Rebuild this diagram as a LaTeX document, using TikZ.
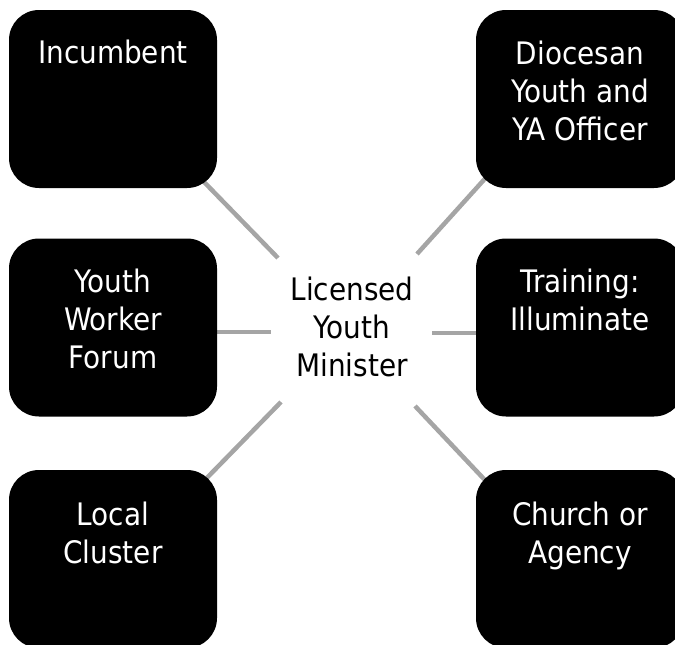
\documentclass[tikz,border=0pt]{standalone}
\usepackage{fontspec}
\setmainfont{DejaVu Sans Condensed}
\usetikzlibrary{backgrounds}
\definecolor{linkgray}{HTML}{A5A5A5}
\begin{document}
\begin{tikzpicture}[x=1pt,y=-1pt,
  blk/.style={draw=none, fill=black, rounded corners=30pt, minimum width=208pt, minimum height=178pt, inner sep=0pt},
  lbl/.style={text=white, font=\fontsize{31}{38}\selectfont, align=center, inner sep=0pt, anchor=north},
  hubtext/.style={text=black, font=\fontsize{31}{38}\selectfont, align=center, inner sep=0pt},
  conn/.style={draw=linkgray, line width=4.5pt}]
\useasboundingbox (0,0) rectangle (675,645);
\node[blk] (inc) at (113,99) {};
\node[blk] (dyo) at (580,99) {};
\node[blk] (ywf) at (113,327.5) {};
\node[blk] (tri) at (580,327.5) {};
\node[blk] (loc) at (113,559) {};
\node[blk] (cha) at (580,559) {};
\node[lbl] (inc-t) at ([shift={(0,30)}]inc.north) {Incumbent};
\node[lbl] (dyo-t) at ([shift={(0,31)}]dyo.north) {Diocesan\\Youth and\\YA Officer};
\node[lbl] (ywf-t) at ([shift={(0,30)}]ywf.north) {Youth\\Worker\\Forum};
\node[lbl] (tri-t) at ([shift={(0,30)}]tri.north) {Training:\\Illuminate};
\node[lbl] (loc-t) at ([shift={(0,32)}]loc.north) {Local\\Cluster};
\node[lbl] (cha-t) at ([shift={(0,32)}]cha.north) {Church or\\Agency};
\node[hubtext] (lym) at (352,326.5) {Licensed\\Youth\\Minister};
\begin{scope}[on background layer]
\draw[conn] ([shift={(-17.6,-10.8)}]inc.south east) -- ([shift={(-74,-68.5)}]lym.center);
\draw[conn] ([shift={(12.3,-13)}]dyo.south west) -- ([shift={(65,-72.5)}]lym.center);
\draw[conn] ([shift={(-8,4.5)}]ywf.east) -- ([shift={(-81,5.5)}]lym.center);
\draw[conn] ([shift={(8,5.5)}]tri.west) -- ([shift={(80,6.5)}]lym.center);
\draw[conn] ([shift={(-10.9,8.7)}]loc.north east) -- ([shift={(-71,75.5)}]lym.center);
\draw[conn] ([shift={(12.5,13.8)}]cha.north west) -- ([shift={(63,79.5)}]lym.center);
\end{scope}
\end{tikzpicture}
\end{document}
